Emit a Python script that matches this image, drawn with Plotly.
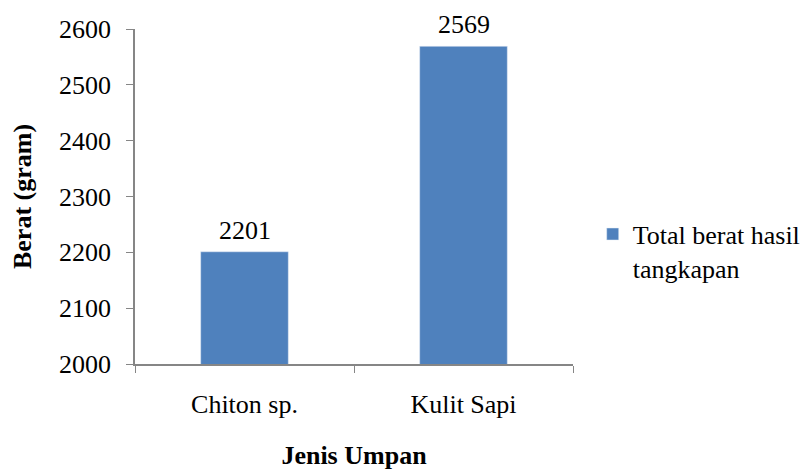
import plotly.graph_objects as go

categories = ["Chiton sp.", "Kulit Sapi"]
values = [2201, 2569]
series_name = "Total berat hasil<br>tangkapan"
y_ticks = [2000, 2100, 2200, 2300, 2400, 2500, 2600]

font = "Liberation Serif"
axis_color = "#868686"
fs = 26

fig = go.Figure(go.Bar(
    x=categories,
    y=values,
    name=series_name,
    marker_color="#4F81BD",
    width=0.4,
    showlegend=True,
))

# value labels above the bars
for c, v in zip(categories, values):
    fig.add_annotation(x=c, y=v, text=str(v), showarrow=False,
                       yanchor="bottom", yshift=6, borderpad=0,
                       font=dict(size=fs, color="black", family=font))

# page body has an 8px margin, so the figure is 8px smaller
fig.update_layout(
    width=800, height=462,
    margin=dict(l=127, r=235, t=21, b=106, autoexpand=False),
    plot_bgcolor="white", paper_bgcolor="white",
    font=dict(family=font, size=fs, color="black"),
    legend=dict(x=1.045, y=0.337, yanchor="middle", xanchor="left",
                valign="top", font=dict(size=fs, family=font), itemwidth=30,
                tracegroupgap=0),
)
fig.update_yaxes(
    range=[2000, 2600], tickvals=y_ticks, showgrid=False, automargin=False,
    showline=True, linecolor=axis_color, linewidth=1.5,
    ticks="outside", ticklen=7, tickcolor=axis_color, ticklabelstandoff=10,
    title=dict(text="<b>Berat (gram)</b>", font=dict(size=fs, family=font), standoff=20),
    zeroline=False,
)
fig.update_xaxes(
    showline=True, linecolor=axis_color, linewidth=1.5, automargin=False,
    ticks="outside", tickson="boundaries", ticklen=7, tickcolor=axis_color,
    ticklabelstandoff=16,
    title=dict(text="<b>Jenis Umpan</b>", font=dict(size=fs, family=font), standoff=30),
)

fig.write_html("out.html")
